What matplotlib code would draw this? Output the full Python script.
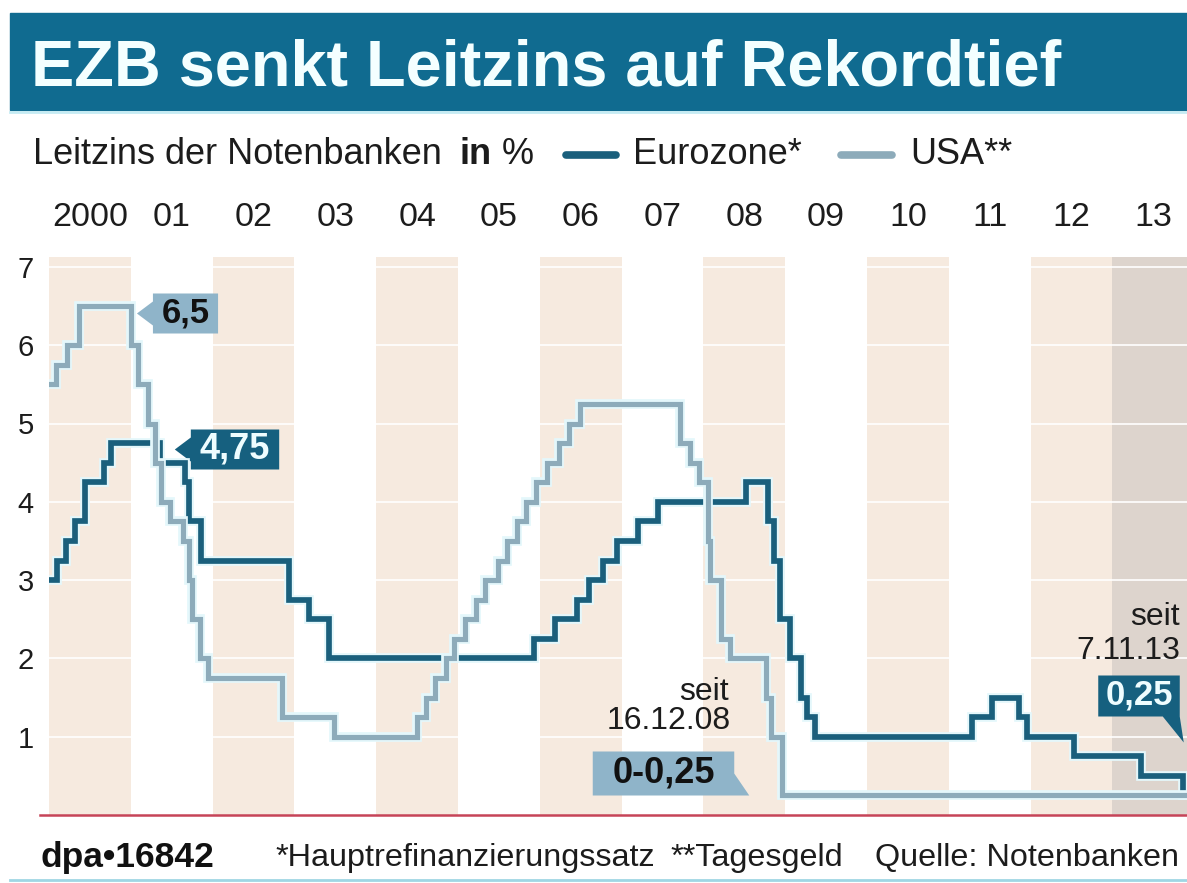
import matplotlib
matplotlib.use("Agg")
import matplotlib.pyplot as plt
import matplotlib.patheffects as pe
from matplotlib.patches import Rectangle
from matplotlib.lines import Line2D
from matplotlib.path import Path
import pandas as pd

# ---------------- data ----------------
ecb_dates = ["2000-01-01", "2000-02-04", "2000-03-17", "2000-04-28", "2000-06-09",
             "2000-09-01", "2000-10-06", "2001-05-11", "2001-08-31", "2001-09-18",
             "2001-11-09", "2002-12-06", "2003-03-07", "2003-06-06", "2005-12-06",
             "2006-03-08", "2006-06-15", "2006-08-09", "2006-10-11", "2006-12-13",
             "2007-03-14", "2007-06-13", "2008-07-09", "2008-10-15", "2008-11-12",
             "2008-12-10", "2009-01-21", "2009-03-11", "2009-04-08", "2009-05-13",
             "2011-04-13", "2011-07-13", "2011-11-09", "2011-12-14", "2012-07-11",
             "2013-05-08", "2013-11-13", "2013-12-31"]
ecb_rates = [3.00, 3.25, 3.50, 3.75, 4.25,
             4.50, 4.75, 4.50, 4.25, 3.75,
             3.25, 2.75, 2.50, 2.00, 2.25,
             2.50, 2.75, 3.00, 3.25, 3.50,
             3.75, 4.00, 4.25, 3.75, 3.25,
             2.50, 2.00, 1.50, 1.25, 1.00,
             1.25, 1.50, 1.25, 1.00, 0.75,
             0.50, 0.25, 0.25]

usa_dates = ["2000-01-01", "2000-02-02", "2000-03-21", "2000-05-16", "2001-01-03",
             "2001-01-31", "2001-03-20", "2001-04-18", "2001-05-15", "2001-06-27",
             "2001-08-21", "2001-09-17", "2001-10-02", "2001-11-06", "2001-12-11",
             "2002-11-06", "2003-06-25", "2004-06-30", "2004-08-10", "2004-09-21",
             "2004-11-10", "2004-12-14", "2005-02-02", "2005-03-22", "2005-05-03",
             "2005-06-30", "2005-08-09", "2005-09-20", "2005-11-01", "2005-12-13",
             "2006-01-31", "2006-03-28", "2006-05-10", "2006-06-29", "2007-09-18",
             "2007-10-31", "2007-12-11", "2008-01-22", "2008-01-30", "2008-03-18",
             "2008-04-30", "2008-10-08", "2008-10-29", "2008-12-16", "2013-12-31"]
usa_rates = [5.50, 5.75, 6.00, 6.50, 6.00,
             5.50, 5.00, 4.50, 4.00, 3.75,
             3.50, 3.00, 2.50, 2.00, 1.75,
             1.25, 1.00, 1.25, 1.50, 1.75,
             2.00, 2.25, 2.50, 2.75, 3.00,
             3.25, 3.50, 3.75, 4.00, 4.25,
             4.50, 4.75, 5.00, 5.25, 4.75,
             4.50, 4.25, 3.50, 3.00, 2.25,
             2.00, 1.50, 1.00, 0.25, 0.25]

year_labels = ["2000", "01", "02", "03", "04", "05", "06",
               "07", "08", "09", "10", "11", "12", "13"]
y_ticks = [1, 2, 3, 4, 5, 6, 7]

def frac_year(dates):
    d = pd.to_datetime(pd.Series(dates))
    return (d.dt.year + (d.dt.dayofyear - 1) / (365 + d.dt.is_leap_year.astype(int))).tolist()

ecb_x = frac_year(ecb_dates)
usa_x = frac_year(usa_dates)

# ---------------- style ----------------
FONT = "Liberation Sans"
plt.rcParams["font.family"] = [FONT, "DejaVu Sans"]
TXT = "#1c1c1c"
BANNER = "#106b90"
ECB_C = "#1a5f7c"
USA_C = "#8dabba"
LIGHT_BOX = "#8fb4c9"
DARK_BOX = "#16607f"
BAND = "#f6eadf"
BAND13 = "#ddd4cd"

W, H = 1187, 883
fig = plt.figure(figsize=(W / 100, H / 100), dpi=100)
fig.patch.set_facecolor("white")

def fx(x):
    return x / W

def fy(y):
    return 1 - y / H

# banner
fig.patches.append(Rectangle((fx(10), fy(110)), fx(1187) - fx(10), fy(13) - fy(110),
                             transform=fig.transFigure, color=BANNER, zorder=0))
fig.add_artist(Line2D([fx(10), fx(1187)], [fy(112), fy(112)], transform=fig.transFigure,
                      color="#c5ebf3", lw=2))
fig.text(fx(31), fy(85), "EZB senkt Leitzins auf Rekordtief", color="#f4ffff",
         fontsize=46.7, fontweight="bold", ha="left", va="baseline")

# legend row
ly = fy(155)
fig.text(fx(33), ly, "Leitzins der Notenbanken", fontsize=26, color=TXT, va="center")
fig.text(fx(459), ly, "in", fontsize=26, fontweight="bold", color=TXT, va="center")
fig.text(fx(502), ly, "%", fontsize=26, color=TXT, va="center")
fig.add_artist(Line2D([fx(566), fx(616)], [ly, ly], transform=fig.transFigure,
                      color=ECB_C, lw=5.5, solid_capstyle="round"))
fig.text(fx(633), ly, "Eurozone*", fontsize=26, color=TXT, va="center")
fig.add_artist(Line2D([fx(841), fx(892)], [ly, ly], transform=fig.transFigure,
                      color=USA_C, lw=5.5, solid_capstyle="round"))
fig.text(fx(910), ly, "USA**", fontsize=26, color=TXT, va="center")

# ---------------- axes ----------------
ax = fig.add_axes([fx(49), fy(815), fx(1187) - fx(49), fy(257) - fy(815)])
ax.set_xlim(2000, 2000 + (1187 - 49) / 81.8)
ax.set_ylim(0, (815 - 257) / 78.3)
for s in ax.spines.values():
    s.set_visible(False)

for i in range(len(year_labels)):
    if i == len(year_labels) - 1:
        ax.axvspan(2000 + i, 2001 + i, color=BAND13, lw=0, zorder=0)
    elif i % 2 == 0:
        ax.axvspan(2000 + i, 2001 + i, color=BAND, lw=0, zorder=0)
for v in y_ticks:
    ax.axhline(v, color="white", lw=1.4, alpha=0.85, zorder=0.5)

halo = [pe.Stroke(linewidth=7.0, foreground="#e4f7fb"), pe.Normal()]
ax.step(ecb_x, ecb_rates, where="post", color=ECB_C, lw=4.1, zorder=3,
        path_effects=halo, solid_joinstyle="miter")
ax.step(usa_x, usa_rates, where="post", color=USA_C, lw=3.7, zorder=4,
        path_effects=halo, solid_joinstyle="miter")

ax.xaxis.set_ticks_position("top")
ax.set_xticks([2000.5 + i for i in range(len(year_labels))])
ax.set_xticklabels(year_labels)
ax.tick_params(axis="x", length=0, pad=17, labelsize=24.5, labelcolor=TXT)
ax.set_yticks(y_ticks)
ax.set_yticklabels([str(v) for v in y_ticks])
ax.tick_params(axis="y", length=0, pad=11, labelsize=21, labelcolor=TXT)

# callout boxes (custom shapes, pixel units)
def callout_style(padl, padr, padb, padt, kind):
    def f(x0, y0, w, h, ms):
        L, R, B, T = x0 - padl, x0 + w + padr, y0 - padb, y0 + h + padt
        if kind == "left":
            yc = (B + T) / 2
            v = [(L, B), (R, B), (R, T), (L, T), (L, yc + 12), (L - 16, yc), (L, yc - 12)]
        elif kind == "tab":
            v = [(L, B), (R + 15, B), (R, B + 22), (R, T), (L, T)]
        else:  # "down"
            v = [(L, B), (R - 17, B), (R + 4, B - 26), (R, B), (R, T), (L, T)]
        v.append(v[0])
        codes = [Path.MOVETO] + [Path.LINETO] * (len(v) - 2) + [Path.CLOSEPOLY]
        return Path(v, codes)
    return f

def callout(text, cx, cy, fc, tc, style, size=25):
    ax.text(fx(cx), fy(cy), text, transform=fig.transFigure, ha="center", va="center",
            fontsize=size, fontweight="bold", color=tc, zorder=2.6,
            bbox=dict(boxstyle=style, fc=fc, ec="none"))

callout("6,5", 186, 313, LIGHT_BOX, "#111111", callout_style(9, 8, 4, 3, "left"))
callout("4,75", 235, 449, DARK_BOX, "#eefdff", callout_style(9, 9, 3, 2, "left"), size=26)
callout("0-0,25", 664, 773, LIGHT_BOX, "#111111", callout_style(20, 19, 5, 4, "tab"), size=26)
callout("0,25", 1139, 695, DARK_BOX, "#eefdff", callout_style(7, 7, 5, 3, "down"))

fig.text(fx(729), fy(692), "seit", fontsize=23, color=TXT, ha="right", va="center", zorder=7)
fig.text(fx(731), fy(721), "16.12.08", fontsize=23, color=TXT, ha="right", va="center", zorder=7)
fig.text(fx(1180), fy(617), "seit", fontsize=23, color=TXT, ha="right", va="center", zorder=7)
fig.text(fx(1180), fy(651), "7.11.13", fontsize=23, color=TXT, ha="right", va="center", zorder=7)

# baseline
fig.add_artist(Line2D([fx(40), fx(1187)], [fy(815), fy(815)], transform=fig.transFigure,
                      color="#c64458", lw=1.8))

# footer
fy_f = fy(858)
fig.text(fx(40), fy_f, "dpa\u202216842", fontsize=25.5, fontweight="bold", color="#111111", va="center")
fig.text(fx(275), fy_f, "*Hauptrefinanzierungssatz", fontsize=23.3, color=TXT, va="center")
fig.text(fx(670), fy_f, "**Tagesgeld", fontsize=23.3, color=TXT, va="center")
fig.text(fx(875), fy_f, "Quelle: Notenbanken", fontsize=23.3, color=TXT, va="center")
fig.add_artist(Line2D([fx(10), fx(1187)], [fy(880), fy(880)], transform=fig.transFigure,
                      color="#9fd6e4", lw=2))

fig.savefig("out.png", dpi=100)
